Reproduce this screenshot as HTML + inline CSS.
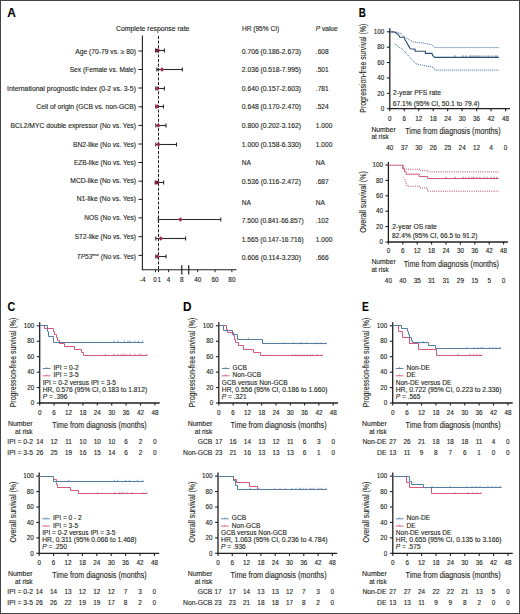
<!DOCTYPE html>
<html><head><meta charset="utf-8"><title>Figure</title>
<style>
html,body{margin:0;padding:0;background:#fff;}
body{width:520px;height:614px;overflow:hidden;}
svg{display:block;font-family:"Liberation Sans",sans-serif;}
text{stroke:#231f20;stroke-width:0.12px;}
</style></head>
<body>
<svg width="520" height="614" viewBox="0 0 520 614" fill="#231f20">
<rect x="0" y="0" width="520" height="614" fill="#fff"/>
<text x="7.20" y="17.20" font-size="12.4" textLength="8.60" lengthAdjust="spacingAndGlyphs" font-weight="bold" fill="#000" stroke="#000" stroke-width="0.35">A</text>
<text x="116.00" y="31.00" font-size="6.6" textLength="73.40" lengthAdjust="spacingAndGlyphs">Complete response rate</text>
<text x="241.90" y="31.00" font-size="6.6">HR (95% CI)</text>
<text x="315.70" y="31.00" font-size="6.6"><tspan font-style="italic">P</tspan> value</text>
<text x="75.30" y="54.20" font-size="6.6" textLength="60.70" lengthAdjust="spacingAndGlyphs">Age (70-79 vs. ≥ 80)</text>
<text x="69.70" y="72.30" font-size="6.6" textLength="66.30" lengthAdjust="spacingAndGlyphs">Sex (Female vs. Male)</text>
<text x="7.00" y="90.70" font-size="6.6" textLength="129.00" lengthAdjust="spacingAndGlyphs">International prognostic index (0-2 vs. 3-5)</text>
<text x="36.30" y="109.40" font-size="6.6" textLength="99.70" lengthAdjust="spacingAndGlyphs">Cell of origin (GCB vs. non-GCB)</text>
<text x="10.60" y="127.80" font-size="6.6" textLength="125.40" lengthAdjust="spacingAndGlyphs">BCL2/MYC double expressor (No vs. Yes)</text>
<text x="73.10" y="146.50" font-size="6.6" textLength="62.90" lengthAdjust="spacingAndGlyphs">BN2-like (No vs. Yes)</text>
<text x="73.90" y="164.60" font-size="6.6" textLength="62.10" lengthAdjust="spacingAndGlyphs">EZB-like (No vs. Yes)</text>
<text x="70.30" y="183.10" font-size="6.6" textLength="65.70" lengthAdjust="spacingAndGlyphs">MCD-like (No vs. Yes)</text>
<text x="76.70" y="201.40" font-size="6.6" textLength="59.30" lengthAdjust="spacingAndGlyphs">N1-like (No vs. Yes)</text>
<text x="84.20" y="220.40" font-size="6.6" textLength="51.80" lengthAdjust="spacingAndGlyphs">NOS (No vs. Yes)</text>
<text x="74.70" y="239.10" font-size="6.6" textLength="61.30" lengthAdjust="spacingAndGlyphs">ST2-like (No vs. Yes)</text>
<text x="76.70" y="258.60" font-size="6.6" textLength="59.30" lengthAdjust="spacingAndGlyphs"><tspan font-style="italic">TP53</tspan><tspan font-size="4" dy="-2.5">mut</tspan><tspan dy="2.5"> (No vs. Yes)</tspan></text>
<text x="241.80" y="53.90" font-size="6.6" textLength="59.10" lengthAdjust="spacingAndGlyphs">0.706 (0.186-2.673)</text>
<text x="315.80" y="53.90" font-size="6.6">.608</text>
<text x="241.80" y="71.70" font-size="6.6" textLength="59.10" lengthAdjust="spacingAndGlyphs">2.036 (0.518-7.995)</text>
<text x="315.80" y="71.70" font-size="6.6">.501</text>
<text x="241.80" y="90.60" font-size="6.6" textLength="59.10" lengthAdjust="spacingAndGlyphs">0.640 (0.157-2.603)</text>
<text x="315.80" y="90.60" font-size="6.6">.781</text>
<text x="241.80" y="109.20" font-size="6.6" textLength="59.10" lengthAdjust="spacingAndGlyphs">0.648 (0.170-2.470)</text>
<text x="315.80" y="109.20" font-size="6.6">.524</text>
<text x="241.80" y="128.00" font-size="6.6" textLength="59.10" lengthAdjust="spacingAndGlyphs">0.800 (0.202-3.162)</text>
<text x="315.80" y="128.00" font-size="6.6">1.000</text>
<text x="241.80" y="146.60" font-size="6.6" textLength="59.10" lengthAdjust="spacingAndGlyphs">1.000 (0.158-6.330)</text>
<text x="315.80" y="146.60" font-size="6.6">1.000</text>
<text x="241.80" y="165.40" font-size="6.6">NA</text>
<text x="315.80" y="165.40" font-size="6.6">NA</text>
<text x="241.80" y="183.80" font-size="6.6" textLength="59.10" lengthAdjust="spacingAndGlyphs">0.536 (0.116-2.472)</text>
<text x="315.80" y="183.80" font-size="6.6">.687</text>
<text x="241.80" y="204.70" font-size="6.6">NA</text>
<text x="315.80" y="204.70" font-size="6.6">NA</text>
<text x="241.80" y="222.80" font-size="6.6" textLength="61.80" lengthAdjust="spacingAndGlyphs">7.500 (0.841-66.857)</text>
<text x="315.80" y="222.80" font-size="6.6">.102</text>
<text x="241.80" y="241.60" font-size="6.6" textLength="61.80" lengthAdjust="spacingAndGlyphs">1.565 (0.147-16.716)</text>
<text x="315.80" y="241.60" font-size="6.6">1.000</text>
<text x="241.80" y="260.40" font-size="6.6" textLength="59.10" lengthAdjust="spacingAndGlyphs">0.606 (0.114-3.230)</text>
<text x="315.80" y="260.40" font-size="6.6">.666</text>
<line x1="142.40" y1="35.50" x2="142.40" y2="270.30" stroke="#231f20" stroke-width="1.1"/>
<line x1="141.90" y1="269.80" x2="236.50" y2="269.80" stroke="#231f20" stroke-width="1.1"/>
<line x1="138.50" y1="51.00" x2="142.40" y2="51.00" stroke="#231f20" stroke-width="1"/>
<line x1="138.50" y1="69.50" x2="142.40" y2="69.50" stroke="#231f20" stroke-width="1"/>
<line x1="138.50" y1="88.00" x2="142.40" y2="88.00" stroke="#231f20" stroke-width="1"/>
<line x1="138.50" y1="106.80" x2="142.40" y2="106.80" stroke="#231f20" stroke-width="1"/>
<line x1="138.50" y1="125.40" x2="142.40" y2="125.40" stroke="#231f20" stroke-width="1"/>
<line x1="138.50" y1="144.00" x2="142.40" y2="144.00" stroke="#231f20" stroke-width="1"/>
<line x1="138.50" y1="162.50" x2="142.40" y2="162.50" stroke="#231f20" stroke-width="1"/>
<line x1="138.50" y1="181.20" x2="142.40" y2="181.20" stroke="#231f20" stroke-width="1"/>
<line x1="138.50" y1="199.40" x2="142.40" y2="199.40" stroke="#231f20" stroke-width="1"/>
<line x1="138.50" y1="217.90" x2="142.40" y2="217.90" stroke="#231f20" stroke-width="1"/>
<line x1="138.50" y1="236.70" x2="142.40" y2="236.70" stroke="#231f20" stroke-width="1"/>
<line x1="138.50" y1="255.40" x2="142.40" y2="255.40" stroke="#231f20" stroke-width="1"/>
<line x1="158.50" y1="36.00" x2="158.50" y2="269.50" stroke="#231f20" stroke-width="1" stroke-dasharray="3 1.6"/>
<line x1="155.50" y1="269.80" x2="155.50" y2="272.20" stroke="#231f20" stroke-width="1"/>
<line x1="158.50" y1="269.80" x2="158.50" y2="272.20" stroke="#231f20" stroke-width="1"/>
<line x1="168.60" y1="269.80" x2="168.60" y2="272.20" stroke="#231f20" stroke-width="1"/>
<line x1="197.70" y1="269.80" x2="197.70" y2="272.20" stroke="#231f20" stroke-width="1"/>
<line x1="215.00" y1="269.80" x2="215.00" y2="272.20" stroke="#231f20" stroke-width="1"/>
<line x1="231.90" y1="269.80" x2="231.90" y2="272.20" stroke="#231f20" stroke-width="1"/>
<line x1="181.80" y1="265.20" x2="181.80" y2="274.40" stroke="#231f20" stroke-width="1.2"/>
<line x1="188.70" y1="265.20" x2="188.70" y2="274.40" stroke="#231f20" stroke-width="1.2"/>
<text x="142.60" y="282.30" font-size="6.4" text-anchor="middle">-4</text>
<text x="155.00" y="282.30" font-size="6.4" text-anchor="middle">0</text>
<text x="159.20" y="282.30" font-size="6.4" text-anchor="middle">1</text>
<text x="168.60" y="282.30" font-size="6.4" text-anchor="middle">4</text>
<text x="181.80" y="282.30" font-size="6.4" text-anchor="middle">8</text>
<text x="197.70" y="282.30" font-size="6.4" text-anchor="middle">40</text>
<text x="215.00" y="282.30" font-size="6.4" text-anchor="middle">60</text>
<text x="231.90" y="282.30" font-size="6.4" text-anchor="middle">80</text>
<line x1="155.50" y1="50.50" x2="164.40" y2="50.50" stroke="#2a2a2a" stroke-width="1.1"/>
<line x1="155.50" y1="48.50" x2="155.50" y2="52.50" stroke="#2a2a2a" stroke-width="1.1"/>
<line x1="164.40" y1="48.50" x2="164.40" y2="52.50" stroke="#2a2a2a" stroke-width="1.1"/>
<rect x="155.50" y="48.70" width="3.8" height="3.6" fill="#7c1f38"/>
<line x1="156.90" y1="69.50" x2="182.30" y2="69.50" stroke="#2a2a2a" stroke-width="1.1"/>
<line x1="156.90" y1="67.50" x2="156.90" y2="71.50" stroke="#2a2a2a" stroke-width="1.1"/>
<line x1="182.30" y1="67.50" x2="182.30" y2="71.50" stroke="#2a2a2a" stroke-width="1.1"/>
<path d="M159.80 69.50 L162.00 67.30 L164.20 69.50 L162.00 71.70Z" fill="#9c2a48"/>
<line x1="155.80" y1="88.50" x2="164.40" y2="88.50" stroke="#2a2a2a" stroke-width="1.1"/>
<line x1="155.80" y1="86.50" x2="155.80" y2="90.50" stroke="#2a2a2a" stroke-width="1.1"/>
<line x1="164.40" y1="86.50" x2="164.40" y2="90.50" stroke="#2a2a2a" stroke-width="1.1"/>
<path d="M155.10 88.50 L157.30 86.30 L159.50 88.50 L157.30 90.70Z" fill="#9c2a48"/>
<line x1="155.80" y1="106.50" x2="163.50" y2="106.50" stroke="#2a2a2a" stroke-width="1.1"/>
<line x1="155.80" y1="104.50" x2="155.80" y2="108.50" stroke="#2a2a2a" stroke-width="1.1"/>
<line x1="163.50" y1="104.50" x2="163.50" y2="108.50" stroke="#2a2a2a" stroke-width="1.1"/>
<path d="M154.80 106.50 L157.00 104.30 L159.20 106.50 L157.00 108.70Z" fill="#9c2a48"/>
<line x1="155.80" y1="125.50" x2="166.00" y2="125.50" stroke="#2a2a2a" stroke-width="1.1"/>
<line x1="155.80" y1="123.50" x2="155.80" y2="127.50" stroke="#2a2a2a" stroke-width="1.1"/>
<line x1="166.00" y1="123.50" x2="166.00" y2="127.50" stroke="#2a2a2a" stroke-width="1.1"/>
<path d="M156.10 125.50 L158.30 123.30 L160.50 125.50 L158.30 127.70Z" fill="#9c2a48"/>
<line x1="155.80" y1="144.50" x2="176.50" y2="144.50" stroke="#2a2a2a" stroke-width="1.1"/>
<line x1="155.80" y1="142.50" x2="155.80" y2="146.50" stroke="#2a2a2a" stroke-width="1.1"/>
<line x1="176.50" y1="142.50" x2="176.50" y2="146.50" stroke="#2a2a2a" stroke-width="1.1"/>
<path d="M156.30 144.50 L158.50 142.30 L160.70 144.50 L158.50 146.70Z" fill="#9c2a48"/>
<line x1="155.20" y1="182.50" x2="163.60" y2="182.50" stroke="#2a2a2a" stroke-width="1.1"/>
<line x1="155.20" y1="180.50" x2="155.20" y2="184.50" stroke="#2a2a2a" stroke-width="1.1"/>
<line x1="163.60" y1="180.50" x2="163.60" y2="184.50" stroke="#2a2a2a" stroke-width="1.1"/>
<rect x="155.10" y="180.70" width="3.8" height="3.6" fill="#7c1f38"/>
<line x1="158.30" y1="219.50" x2="220.80" y2="219.50" stroke="#2a2a2a" stroke-width="1.1"/>
<line x1="158.30" y1="217.50" x2="158.30" y2="221.50" stroke="#2a2a2a" stroke-width="1.1"/>
<line x1="220.80" y1="217.50" x2="220.80" y2="221.50" stroke="#2a2a2a" stroke-width="1.1"/>
<path d="M178.20 219.50 L180.40 217.30 L182.60 219.50 L180.40 221.70Z" fill="#9c2a48"/>
<line x1="155.80" y1="238.50" x2="185.60" y2="238.50" stroke="#2a2a2a" stroke-width="1.1"/>
<line x1="155.80" y1="236.50" x2="155.80" y2="240.50" stroke="#2a2a2a" stroke-width="1.1"/>
<line x1="185.60" y1="236.50" x2="185.60" y2="240.50" stroke="#2a2a2a" stroke-width="1.1"/>
<path d="M158.60 238.50 L160.80 236.30 L163.00 238.50 L160.80 240.70Z" fill="#9c2a48"/>
<line x1="155.80" y1="256.50" x2="166.00" y2="256.50" stroke="#2a2a2a" stroke-width="1.1"/>
<line x1="155.80" y1="254.50" x2="155.80" y2="258.50" stroke="#2a2a2a" stroke-width="1.1"/>
<line x1="166.00" y1="254.50" x2="166.00" y2="258.50" stroke="#2a2a2a" stroke-width="1.1"/>
<path d="M155.10 256.50 L157.30 254.30 L159.50 256.50 L157.30 258.70Z" fill="#9c2a48"/>
<text x="358.80" y="17.20" font-size="12.4" textLength="7.10" lengthAdjust="spacingAndGlyphs" font-weight="bold" fill="#000" stroke="#000" stroke-width="0.35">B</text>
<line x1="389.80" y1="28.20" x2="389.80" y2="109.30" stroke="#231f20" stroke-width="1.3"/>
<line x1="389.20" y1="108.70" x2="509.92" y2="108.70" stroke="#231f20" stroke-width="1.3"/>
<line x1="386.90" y1="108.70" x2="389.80" y2="108.70" stroke="#231f20" stroke-width="1.1"/>
<text x="384.30" y="110.90" font-size="6.3" text-anchor="end">0</text>
<line x1="386.90" y1="93.32" x2="389.80" y2="93.32" stroke="#231f20" stroke-width="1.1"/>
<text x="384.30" y="95.52" font-size="6.3" text-anchor="end">20</text>
<line x1="386.90" y1="77.94" x2="389.80" y2="77.94" stroke="#231f20" stroke-width="1.1"/>
<text x="384.30" y="80.14" font-size="6.3" text-anchor="end">40</text>
<line x1="386.90" y1="62.56" x2="389.80" y2="62.56" stroke="#231f20" stroke-width="1.1"/>
<text x="384.30" y="64.76" font-size="6.3" text-anchor="end">60</text>
<line x1="386.90" y1="47.18" x2="389.80" y2="47.18" stroke="#231f20" stroke-width="1.1"/>
<text x="384.30" y="49.38" font-size="6.3" text-anchor="end">80</text>
<line x1="386.90" y1="31.80" x2="389.80" y2="31.80" stroke="#231f20" stroke-width="1.1"/>
<text x="384.30" y="34.00" font-size="6.3" text-anchor="end">100</text>
<line x1="389.80" y1="108.70" x2="389.80" y2="111.30" stroke="#231f20" stroke-width="1.1"/>
<text x="389.80" y="120.60" font-size="6.3" text-anchor="middle">0</text>
<line x1="404.27" y1="108.70" x2="404.27" y2="111.30" stroke="#231f20" stroke-width="1.1"/>
<text x="404.27" y="120.60" font-size="6.3" text-anchor="middle">6</text>
<line x1="418.74" y1="108.70" x2="418.74" y2="111.30" stroke="#231f20" stroke-width="1.1"/>
<text x="418.74" y="120.60" font-size="6.3" text-anchor="middle">12</text>
<line x1="433.22" y1="108.70" x2="433.22" y2="111.30" stroke="#231f20" stroke-width="1.1"/>
<text x="433.22" y="120.60" font-size="6.3" text-anchor="middle">18</text>
<line x1="447.69" y1="108.70" x2="447.69" y2="111.30" stroke="#231f20" stroke-width="1.1"/>
<text x="447.69" y="120.60" font-size="6.3" text-anchor="middle">24</text>
<line x1="462.16" y1="108.70" x2="462.16" y2="111.30" stroke="#231f20" stroke-width="1.1"/>
<text x="462.16" y="120.60" font-size="6.3" text-anchor="middle">30</text>
<line x1="476.63" y1="108.70" x2="476.63" y2="111.30" stroke="#231f20" stroke-width="1.1"/>
<text x="476.63" y="120.60" font-size="6.3" text-anchor="middle">36</text>
<line x1="491.10" y1="108.70" x2="491.10" y2="111.30" stroke="#231f20" stroke-width="1.1"/>
<text x="491.10" y="120.60" font-size="6.3" text-anchor="middle">42</text>
<line x1="505.58" y1="108.70" x2="505.58" y2="111.30" stroke="#231f20" stroke-width="1.1"/>
<text x="505.58" y="120.60" font-size="6.3" text-anchor="middle">48</text>
<text transform="translate(365.50 68.25) rotate(-90)" x="0" y="0" font-size="9.2" text-anchor="middle" textLength="88.90" lengthAdjust="spacingAndGlyphs">Progression-free survival (%)</text>
<text x="371.40" y="131.80" font-size="6.6" textLength="24.30" lengthAdjust="spacingAndGlyphs">Number</text>
<text x="371.40" y="139.00" font-size="6.6" textLength="17.30" lengthAdjust="spacingAndGlyphs">at risk</text>
<text x="405.20" y="133.60" font-size="9.0" textLength="95.40" lengthAdjust="spacingAndGlyphs">Time from diagnosis (months)</text>
<text x="389.80" y="150.10" font-size="6.4" text-anchor="middle">40</text>
<text x="404.27" y="150.10" font-size="6.4" text-anchor="middle">37</text>
<text x="418.74" y="150.10" font-size="6.4" text-anchor="middle">30</text>
<text x="433.22" y="150.10" font-size="6.4" text-anchor="middle">26</text>
<text x="447.69" y="150.10" font-size="6.4" text-anchor="middle">25</text>
<text x="462.16" y="150.10" font-size="6.4" text-anchor="middle">24</text>
<text x="476.63" y="150.10" font-size="6.4" text-anchor="middle">12</text>
<text x="491.10" y="150.10" font-size="6.4" text-anchor="middle">4</text>
<text x="505.58" y="150.10" font-size="6.4" text-anchor="middle">0</text>
<text x="393.00" y="95.40" font-size="6.6" textLength="48.00" lengthAdjust="spacingAndGlyphs">2-year PFS rate</text>
<text x="392.70" y="105.70" font-size="6.6" textLength="86.90" lengthAdjust="spacingAndGlyphs">67.1% (95% CI, 50.1 to 79.4)</text>
<path d="M389.80 31.90 L394.30 31.90 L395.30 32.40 L396.30 33.20 L397.40 33.90 L398.40 34.60 L399.80 37.20 L403.90 37.20 L405.00 39.50 L406.20 41.70 L407.40 43.80 L408.60 45.90 L409.60 47.60 L410.50 48.80 L415.10 49.20 L415.10 51.20 L425.40 51.20 L425.40 53.30 L431.90 53.30 L432.70 55.40 L434.60 57.30 L498.80 57.30" fill="none" stroke="#2f4f72" stroke-width="1.15"/>
<path d="M389.80 31.90 L397.00 32.30 L401.00 33.50 L405.00 37.30 L412.70 41.90 L418.00 42.50 L424.20 43.10 L431.20 44.60 L435.00 47.60 L498.80 47.60" fill="none" stroke="#3d6590" stroke-width="1.0" stroke-dasharray="1 1"/>
<path d="M394.50 44.20 L397.00 45.00 L399.00 47.50 L401.50 48.30 L405.00 51.90 L415.80 63.80 L425.00 65.80 L433.50 67.30 L435.00 70.10 L498.80 70.10" fill="none" stroke="#3d6590" stroke-width="1.0" stroke-dasharray="1 1"/>
<line x1="455.00" y1="55.30" x2="455.00" y2="57.40" stroke="#2f4f72" stroke-width="0.7"/>
<line x1="463.00" y1="55.30" x2="463.00" y2="57.40" stroke="#2f4f72" stroke-width="0.7"/>
<line x1="466.00" y1="55.30" x2="466.00" y2="57.40" stroke="#2f4f72" stroke-width="0.7"/>
<line x1="470.00" y1="55.30" x2="470.00" y2="57.40" stroke="#2f4f72" stroke-width="0.7"/>
<line x1="472.00" y1="55.30" x2="472.00" y2="57.40" stroke="#2f4f72" stroke-width="0.7"/>
<line x1="474.00" y1="55.30" x2="474.00" y2="57.40" stroke="#2f4f72" stroke-width="0.7"/>
<line x1="476.00" y1="55.30" x2="476.00" y2="57.40" stroke="#2f4f72" stroke-width="0.7"/>
<line x1="478.00" y1="55.30" x2="478.00" y2="57.40" stroke="#2f4f72" stroke-width="0.7"/>
<line x1="480.00" y1="55.30" x2="480.00" y2="57.40" stroke="#2f4f72" stroke-width="0.7"/>
<line x1="483.00" y1="55.30" x2="483.00" y2="57.40" stroke="#2f4f72" stroke-width="0.7"/>
<line x1="486.00" y1="55.30" x2="486.00" y2="57.40" stroke="#2f4f72" stroke-width="0.7"/>
<line x1="489.00" y1="55.30" x2="489.00" y2="57.40" stroke="#2f4f72" stroke-width="0.7"/>
<line x1="492.00" y1="55.30" x2="492.00" y2="57.40" stroke="#2f4f72" stroke-width="0.7"/>
<line x1="495.00" y1="55.30" x2="495.00" y2="57.40" stroke="#2f4f72" stroke-width="0.7"/>
<line x1="497.00" y1="55.30" x2="497.00" y2="57.40" stroke="#2f4f72" stroke-width="0.7"/>
<line x1="388.40" y1="162.00" x2="388.40" y2="242.60" stroke="#231f20" stroke-width="1.3"/>
<line x1="387.80" y1="242.00" x2="507.92" y2="242.00" stroke="#231f20" stroke-width="1.3"/>
<line x1="385.50" y1="242.00" x2="388.40" y2="242.00" stroke="#231f20" stroke-width="1.1"/>
<text x="382.90" y="244.20" font-size="6.3" text-anchor="end">0</text>
<line x1="385.50" y1="226.60" x2="388.40" y2="226.60" stroke="#231f20" stroke-width="1.1"/>
<text x="382.90" y="228.80" font-size="6.3" text-anchor="end">20</text>
<line x1="385.50" y1="211.20" x2="388.40" y2="211.20" stroke="#231f20" stroke-width="1.1"/>
<text x="382.90" y="213.40" font-size="6.3" text-anchor="end">40</text>
<line x1="385.50" y1="195.80" x2="388.40" y2="195.80" stroke="#231f20" stroke-width="1.1"/>
<text x="382.90" y="198.00" font-size="6.3" text-anchor="end">60</text>
<line x1="385.50" y1="180.40" x2="388.40" y2="180.40" stroke="#231f20" stroke-width="1.1"/>
<text x="382.90" y="182.60" font-size="6.3" text-anchor="end">80</text>
<line x1="385.50" y1="165.00" x2="388.40" y2="165.00" stroke="#231f20" stroke-width="1.1"/>
<text x="382.90" y="167.20" font-size="6.3" text-anchor="end">100</text>
<line x1="388.40" y1="242.00" x2="388.40" y2="244.60" stroke="#231f20" stroke-width="1.1"/>
<text x="388.40" y="253.20" font-size="6.3" text-anchor="middle">0</text>
<line x1="402.80" y1="242.00" x2="402.80" y2="244.60" stroke="#231f20" stroke-width="1.1"/>
<text x="402.80" y="253.20" font-size="6.3" text-anchor="middle">6</text>
<line x1="417.20" y1="242.00" x2="417.20" y2="244.60" stroke="#231f20" stroke-width="1.1"/>
<text x="417.20" y="253.20" font-size="6.3" text-anchor="middle">12</text>
<line x1="431.60" y1="242.00" x2="431.60" y2="244.60" stroke="#231f20" stroke-width="1.1"/>
<text x="431.60" y="253.20" font-size="6.3" text-anchor="middle">18</text>
<line x1="446.00" y1="242.00" x2="446.00" y2="244.60" stroke="#231f20" stroke-width="1.1"/>
<text x="446.00" y="253.20" font-size="6.3" text-anchor="middle">24</text>
<line x1="460.40" y1="242.00" x2="460.40" y2="244.60" stroke="#231f20" stroke-width="1.1"/>
<text x="460.40" y="253.20" font-size="6.3" text-anchor="middle">30</text>
<line x1="474.80" y1="242.00" x2="474.80" y2="244.60" stroke="#231f20" stroke-width="1.1"/>
<text x="474.80" y="253.20" font-size="6.3" text-anchor="middle">36</text>
<line x1="489.20" y1="242.00" x2="489.20" y2="244.60" stroke="#231f20" stroke-width="1.1"/>
<text x="489.20" y="253.20" font-size="6.3" text-anchor="middle">42</text>
<line x1="503.60" y1="242.00" x2="503.60" y2="244.60" stroke="#231f20" stroke-width="1.1"/>
<text x="503.60" y="253.20" font-size="6.3" text-anchor="middle">48</text>
<text transform="translate(365.50 201.95) rotate(-90)" x="0" y="0" font-size="9.2" text-anchor="middle" textLength="61.70" lengthAdjust="spacingAndGlyphs">Overall survival (%)</text>
<text x="371.40" y="264.20" font-size="6.6" textLength="24.30" lengthAdjust="spacingAndGlyphs">Number</text>
<text x="371.40" y="272.30" font-size="6.6" textLength="17.30" lengthAdjust="spacingAndGlyphs">at risk</text>
<text x="403.70" y="266.70" font-size="9.0" textLength="95.30" lengthAdjust="spacingAndGlyphs">Time from diagnosis (months)</text>
<text x="388.40" y="282.50" font-size="6.4" text-anchor="middle">40</text>
<text x="402.80" y="282.50" font-size="6.4" text-anchor="middle">40</text>
<text x="417.20" y="282.50" font-size="6.4" text-anchor="middle">35</text>
<text x="431.60" y="282.50" font-size="6.4" text-anchor="middle">31</text>
<text x="446.00" y="282.50" font-size="6.4" text-anchor="middle">31</text>
<text x="460.40" y="282.50" font-size="6.4" text-anchor="middle">29</text>
<text x="474.80" y="282.50" font-size="6.4" text-anchor="middle">15</text>
<text x="489.20" y="282.50" font-size="6.4" text-anchor="middle">5</text>
<text x="503.60" y="282.50" font-size="6.4" text-anchor="middle">0</text>
<text x="392.30" y="228.70" font-size="6.6" textLength="44.50" lengthAdjust="spacingAndGlyphs">2-year OS rate</text>
<text x="392.00" y="238.20" font-size="6.6" textLength="85.50" lengthAdjust="spacingAndGlyphs">82.4% (95% CI, 66.5 to 91.2)</text>
<path d="M388.40 165.20 L402.60 165.20 L402.60 168.50 L404.30 168.50 L404.30 171.50 L406.00 171.50 L406.00 174.20 L419.20 174.20 L419.20 176.50 L427.60 176.50 L427.60 178.50 L498.50 178.50" fill="none" stroke="#d4587a" stroke-width="1.0"/>
<path d="M402.80 165.60 L403.80 165.60 L403.80 169.20 L420.30 169.20 L420.30 170.40 L427.40 170.40 L427.40 171.90 L498.50 171.90" fill="none" stroke="#a8304f" stroke-width="0.9" stroke-dasharray="1 1.2"/>
<path d="M403.20 177.60 L405.50 180.00 L406.00 183.00 L407.00 186.20 L420.00 186.20 L420.00 188.00 L427.50 188.00 L427.50 191.20 L498.50 191.20" fill="none" stroke="#a8304f" stroke-width="0.9" stroke-dasharray="1 1.2"/>
<line x1="446.00" y1="176.75" x2="446.00" y2="178.85" stroke="#a8304f" stroke-width="0.7"/>
<line x1="455.00" y1="176.75" x2="455.00" y2="178.85" stroke="#a8304f" stroke-width="0.7"/>
<line x1="463.00" y1="176.75" x2="463.00" y2="178.85" stroke="#a8304f" stroke-width="0.7"/>
<line x1="466.00" y1="176.75" x2="466.00" y2="178.85" stroke="#a8304f" stroke-width="0.7"/>
<line x1="469.00" y1="176.75" x2="469.00" y2="178.85" stroke="#a8304f" stroke-width="0.7"/>
<line x1="472.00" y1="176.75" x2="472.00" y2="178.85" stroke="#a8304f" stroke-width="0.7"/>
<line x1="474.00" y1="176.75" x2="474.00" y2="178.85" stroke="#a8304f" stroke-width="0.7"/>
<line x1="477.00" y1="176.75" x2="477.00" y2="178.85" stroke="#a8304f" stroke-width="0.7"/>
<line x1="480.00" y1="176.75" x2="480.00" y2="178.85" stroke="#a8304f" stroke-width="0.7"/>
<line x1="484.00" y1="176.75" x2="484.00" y2="178.85" stroke="#a8304f" stroke-width="0.7"/>
<line x1="487.00" y1="176.75" x2="487.00" y2="178.85" stroke="#a8304f" stroke-width="0.7"/>
<line x1="491.00" y1="176.75" x2="491.00" y2="178.85" stroke="#a8304f" stroke-width="0.7"/>
<line x1="494.00" y1="176.75" x2="494.00" y2="178.85" stroke="#a8304f" stroke-width="0.7"/>
<line x1="497.00" y1="176.75" x2="497.00" y2="178.85" stroke="#a8304f" stroke-width="0.7"/>
<text x="7.60" y="311.30" font-size="12.6" textLength="7.70" lengthAdjust="spacingAndGlyphs" font-weight="bold" fill="#000" stroke="#000" stroke-width="0.35">C</text>
<line x1="39.70" y1="322.30" x2="39.70" y2="403.60" stroke="#231f20" stroke-width="1.3"/>
<line x1="39.10" y1="403.00" x2="159.70" y2="403.00" stroke="#231f20" stroke-width="1.3"/>
<line x1="36.80" y1="403.00" x2="39.70" y2="403.00" stroke="#231f20" stroke-width="1.1"/>
<text x="34.20" y="405.20" font-size="6.3" text-anchor="end">0</text>
<line x1="36.80" y1="387.56" x2="39.70" y2="387.56" stroke="#231f20" stroke-width="1.1"/>
<text x="34.20" y="389.76" font-size="6.3" text-anchor="end">20</text>
<line x1="36.80" y1="372.12" x2="39.70" y2="372.12" stroke="#231f20" stroke-width="1.1"/>
<text x="34.20" y="374.32" font-size="6.3" text-anchor="end">40</text>
<line x1="36.80" y1="356.68" x2="39.70" y2="356.68" stroke="#231f20" stroke-width="1.1"/>
<text x="34.20" y="358.88" font-size="6.3" text-anchor="end">60</text>
<line x1="36.80" y1="341.24" x2="39.70" y2="341.24" stroke="#231f20" stroke-width="1.1"/>
<text x="34.20" y="343.44" font-size="6.3" text-anchor="end">80</text>
<line x1="36.80" y1="325.80" x2="39.70" y2="325.80" stroke="#231f20" stroke-width="1.1"/>
<text x="34.20" y="328.00" font-size="6.3" text-anchor="end">100</text>
<line x1="39.70" y1="403.00" x2="39.70" y2="405.60" stroke="#231f20" stroke-width="1.1"/>
<text x="39.70" y="414.80" font-size="6.3" text-anchor="middle">0</text>
<line x1="54.10" y1="403.00" x2="54.10" y2="405.60" stroke="#231f20" stroke-width="1.1"/>
<text x="54.10" y="414.80" font-size="6.3" text-anchor="middle">6</text>
<line x1="68.50" y1="403.00" x2="68.50" y2="405.60" stroke="#231f20" stroke-width="1.1"/>
<text x="68.50" y="414.80" font-size="6.3" text-anchor="middle">12</text>
<line x1="82.90" y1="403.00" x2="82.90" y2="405.60" stroke="#231f20" stroke-width="1.1"/>
<text x="82.90" y="414.80" font-size="6.3" text-anchor="middle">18</text>
<line x1="97.30" y1="403.00" x2="97.30" y2="405.60" stroke="#231f20" stroke-width="1.1"/>
<text x="97.30" y="414.80" font-size="6.3" text-anchor="middle">24</text>
<line x1="111.70" y1="403.00" x2="111.70" y2="405.60" stroke="#231f20" stroke-width="1.1"/>
<text x="111.70" y="414.80" font-size="6.3" text-anchor="middle">30</text>
<line x1="126.10" y1="403.00" x2="126.10" y2="405.60" stroke="#231f20" stroke-width="1.1"/>
<text x="126.10" y="414.80" font-size="6.3" text-anchor="middle">36</text>
<line x1="140.50" y1="403.00" x2="140.50" y2="405.60" stroke="#231f20" stroke-width="1.1"/>
<text x="140.50" y="414.80" font-size="6.3" text-anchor="middle">42</text>
<line x1="154.90" y1="403.00" x2="154.90" y2="405.60" stroke="#231f20" stroke-width="1.1"/>
<text x="154.90" y="414.80" font-size="6.3" text-anchor="middle">48</text>
<text transform="translate(15.70 362.55) rotate(-90)" x="0" y="0" font-size="9.2" text-anchor="middle" textLength="89.50" lengthAdjust="spacingAndGlyphs">Progression-free survival (%)</text>
<text x="32.60" y="425.60" font-size="6.6" text-anchor="end" textLength="24.60" lengthAdjust="spacingAndGlyphs">Number</text>
<text x="32.60" y="433.50" font-size="6.6" text-anchor="end" textLength="17.50" lengthAdjust="spacingAndGlyphs">at risk</text>
<text x="52.30" y="427.80" font-size="9.0" textLength="94.30" lengthAdjust="spacingAndGlyphs">Time from diagnosis (months)</text>
<text x="33.00" y="444.10" font-size="6.75" text-anchor="end">IPI = 0-2</text>
<text x="39.70" y="444.10" font-size="6.4" text-anchor="middle">14</text>
<text x="54.10" y="444.10" font-size="6.4" text-anchor="middle">12</text>
<text x="68.50" y="444.10" font-size="6.4" text-anchor="middle">11</text>
<text x="82.90" y="444.10" font-size="6.4" text-anchor="middle">10</text>
<text x="97.30" y="444.10" font-size="6.4" text-anchor="middle">10</text>
<text x="111.70" y="444.10" font-size="6.4" text-anchor="middle">10</text>
<text x="126.10" y="444.10" font-size="6.4" text-anchor="middle">6</text>
<text x="140.50" y="444.10" font-size="6.4" text-anchor="middle">2</text>
<text x="154.90" y="444.10" font-size="6.4" text-anchor="middle">0</text>
<text x="33.00" y="454.70" font-size="6.75" text-anchor="end">IPI = 3-5</text>
<text x="39.70" y="454.70" font-size="6.4" text-anchor="middle">26</text>
<text x="54.10" y="454.70" font-size="6.4" text-anchor="middle">25</text>
<text x="68.50" y="454.70" font-size="6.4" text-anchor="middle">19</text>
<text x="82.90" y="454.70" font-size="6.4" text-anchor="middle">16</text>
<text x="97.30" y="454.70" font-size="6.4" text-anchor="middle">15</text>
<text x="111.70" y="454.70" font-size="6.4" text-anchor="middle">14</text>
<text x="126.10" y="454.70" font-size="6.4" text-anchor="middle">6</text>
<text x="140.50" y="454.70" font-size="6.4" text-anchor="middle">2</text>
<text x="154.90" y="454.70" font-size="6.4" text-anchor="middle">0</text>
<line x1="39.20" y1="472.60" x2="39.20" y2="553.90" stroke="#231f20" stroke-width="1.3"/>
<line x1="38.60" y1="553.30" x2="159.20" y2="553.30" stroke="#231f20" stroke-width="1.3"/>
<line x1="36.30" y1="553.30" x2="39.20" y2="553.30" stroke="#231f20" stroke-width="1.1"/>
<text x="33.70" y="555.50" font-size="6.3" text-anchor="end">0</text>
<line x1="36.30" y1="537.86" x2="39.20" y2="537.86" stroke="#231f20" stroke-width="1.1"/>
<text x="33.70" y="540.06" font-size="6.3" text-anchor="end">20</text>
<line x1="36.30" y1="522.42" x2="39.20" y2="522.42" stroke="#231f20" stroke-width="1.1"/>
<text x="33.70" y="524.62" font-size="6.3" text-anchor="end">40</text>
<line x1="36.30" y1="506.98" x2="39.20" y2="506.98" stroke="#231f20" stroke-width="1.1"/>
<text x="33.70" y="509.18" font-size="6.3" text-anchor="end">60</text>
<line x1="36.30" y1="491.54" x2="39.20" y2="491.54" stroke="#231f20" stroke-width="1.1"/>
<text x="33.70" y="493.74" font-size="6.3" text-anchor="end">80</text>
<line x1="36.30" y1="476.10" x2="39.20" y2="476.10" stroke="#231f20" stroke-width="1.1"/>
<text x="33.70" y="478.30" font-size="6.3" text-anchor="end">100</text>
<line x1="39.20" y1="553.30" x2="39.20" y2="555.90" stroke="#231f20" stroke-width="1.1"/>
<text x="39.20" y="565.30" font-size="6.3" text-anchor="middle">0</text>
<line x1="53.60" y1="553.30" x2="53.60" y2="555.90" stroke="#231f20" stroke-width="1.1"/>
<text x="53.60" y="565.30" font-size="6.3" text-anchor="middle">6</text>
<line x1="68.00" y1="553.30" x2="68.00" y2="555.90" stroke="#231f20" stroke-width="1.1"/>
<text x="68.00" y="565.30" font-size="6.3" text-anchor="middle">12</text>
<line x1="82.40" y1="553.30" x2="82.40" y2="555.90" stroke="#231f20" stroke-width="1.1"/>
<text x="82.40" y="565.30" font-size="6.3" text-anchor="middle">18</text>
<line x1="96.80" y1="553.30" x2="96.80" y2="555.90" stroke="#231f20" stroke-width="1.1"/>
<text x="96.80" y="565.30" font-size="6.3" text-anchor="middle">24</text>
<line x1="111.20" y1="553.30" x2="111.20" y2="555.90" stroke="#231f20" stroke-width="1.1"/>
<text x="111.20" y="565.30" font-size="6.3" text-anchor="middle">30</text>
<line x1="125.60" y1="553.30" x2="125.60" y2="555.90" stroke="#231f20" stroke-width="1.1"/>
<text x="125.60" y="565.30" font-size="6.3" text-anchor="middle">36</text>
<line x1="140.00" y1="553.30" x2="140.00" y2="555.90" stroke="#231f20" stroke-width="1.1"/>
<text x="140.00" y="565.30" font-size="6.3" text-anchor="middle">42</text>
<line x1="154.40" y1="553.30" x2="154.40" y2="555.90" stroke="#231f20" stroke-width="1.1"/>
<text x="154.40" y="565.30" font-size="6.3" text-anchor="middle">48</text>
<text transform="translate(15.70 512.10) rotate(-90)" x="0" y="0" font-size="9.2" text-anchor="middle" textLength="60.80" lengthAdjust="spacingAndGlyphs">Overall survival (%)</text>
<text x="32.60" y="576.00" font-size="6.6" text-anchor="end" textLength="24.60" lengthAdjust="spacingAndGlyphs">Number</text>
<text x="32.60" y="584.00" font-size="6.6" text-anchor="end" textLength="17.50" lengthAdjust="spacingAndGlyphs">at risk</text>
<text x="52.30" y="577.90" font-size="9.0" textLength="94.30" lengthAdjust="spacingAndGlyphs">Time from diagnosis (months)</text>
<text x="33.00" y="594.10" font-size="6.75" text-anchor="end">IPI = 0-2</text>
<text x="39.20" y="594.10" font-size="6.4" text-anchor="middle">14</text>
<text x="53.60" y="594.10" font-size="6.4" text-anchor="middle">14</text>
<text x="68.00" y="594.10" font-size="6.4" text-anchor="middle">13</text>
<text x="82.40" y="594.10" font-size="6.4" text-anchor="middle">12</text>
<text x="96.80" y="594.10" font-size="6.4" text-anchor="middle">12</text>
<text x="111.20" y="594.10" font-size="6.4" text-anchor="middle">12</text>
<text x="125.60" y="594.10" font-size="6.4" text-anchor="middle">7</text>
<text x="140.00" y="594.10" font-size="6.4" text-anchor="middle">3</text>
<text x="154.40" y="594.10" font-size="6.4" text-anchor="middle">0</text>
<text x="33.00" y="604.90" font-size="6.75" text-anchor="end">IPI = 3-5</text>
<text x="39.20" y="604.90" font-size="6.4" text-anchor="middle">26</text>
<text x="53.60" y="604.90" font-size="6.4" text-anchor="middle">26</text>
<text x="68.00" y="604.90" font-size="6.4" text-anchor="middle">22</text>
<text x="82.40" y="604.90" font-size="6.4" text-anchor="middle">19</text>
<text x="96.80" y="604.90" font-size="6.4" text-anchor="middle">19</text>
<text x="111.20" y="604.90" font-size="6.4" text-anchor="middle">17</text>
<text x="125.60" y="604.90" font-size="6.4" text-anchor="middle">8</text>
<text x="140.00" y="604.90" font-size="6.4" text-anchor="middle">2</text>
<text x="154.40" y="604.90" font-size="6.4" text-anchor="middle">0</text>
<path d="M39.70 325.50H44.50V328.50H53.50V331.50H54.50V334.50H56.50V337.50H57.50V340.50H59.50V343.50H64.50V346.50H74.50V349.50H81.50V352.50H83.50V355.50H147.30" fill="none" stroke="#d4587a" stroke-width="1.0"/>
<line x1="105.40" y1="353.72" x2="105.40" y2="355.82" stroke="#d4587a" stroke-width="0.7"/>
<line x1="113.50" y1="353.72" x2="113.50" y2="355.82" stroke="#d4587a" stroke-width="0.7"/>
<line x1="118.00" y1="353.72" x2="118.00" y2="355.82" stroke="#d4587a" stroke-width="0.7"/>
<line x1="121.30" y1="353.72" x2="121.30" y2="355.82" stroke="#d4587a" stroke-width="0.7"/>
<line x1="123.80" y1="353.72" x2="123.80" y2="355.82" stroke="#d4587a" stroke-width="0.7"/>
<line x1="126.00" y1="353.72" x2="126.00" y2="355.82" stroke="#d4587a" stroke-width="0.7"/>
<line x1="130.00" y1="353.72" x2="130.00" y2="355.82" stroke="#d4587a" stroke-width="0.7"/>
<line x1="134.80" y1="353.72" x2="134.80" y2="355.82" stroke="#d4587a" stroke-width="0.7"/>
<line x1="139.00" y1="353.72" x2="139.00" y2="355.82" stroke="#d4587a" stroke-width="0.7"/>
<line x1="141.40" y1="353.72" x2="141.40" y2="355.82" stroke="#d4587a" stroke-width="0.7"/>
<line x1="146.80" y1="353.72" x2="146.80" y2="355.82" stroke="#d4587a" stroke-width="0.7"/>
<path d="M39.70 325.50H47.50V331.50H48.50V336.50H53.50V342.50H143.40" fill="none" stroke="#577ca2" stroke-width="1.0"/>
<line x1="114.00" y1="340.52" x2="114.00" y2="342.62" stroke="#577ca2" stroke-width="0.7"/>
<line x1="118.00" y1="340.52" x2="118.00" y2="342.62" stroke="#577ca2" stroke-width="0.7"/>
<line x1="124.40" y1="340.52" x2="124.40" y2="342.62" stroke="#577ca2" stroke-width="0.7"/>
<line x1="128.00" y1="340.52" x2="128.00" y2="342.62" stroke="#577ca2" stroke-width="0.7"/>
<line x1="130.00" y1="340.52" x2="130.00" y2="342.62" stroke="#577ca2" stroke-width="0.7"/>
<line x1="134.80" y1="340.52" x2="134.80" y2="342.62" stroke="#577ca2" stroke-width="0.7"/>
<line x1="138.60" y1="340.52" x2="138.60" y2="342.62" stroke="#577ca2" stroke-width="0.7"/>
<line x1="142.70" y1="340.52" x2="142.70" y2="342.62" stroke="#577ca2" stroke-width="0.7"/>
<path d="M39.20 476.50H53.50V479.50H56.50V482.50H56.50V484.50H57.50V487.50H70.50V490.50H78.50V493.50H147.00" fill="none" stroke="#d4587a" stroke-width="1.0"/>
<line x1="97.60" y1="492.13" x2="97.60" y2="494.23" stroke="#d4587a" stroke-width="0.7"/>
<line x1="114.50" y1="492.13" x2="114.50" y2="494.23" stroke="#d4587a" stroke-width="0.7"/>
<line x1="119.50" y1="492.13" x2="119.50" y2="494.23" stroke="#d4587a" stroke-width="0.7"/>
<line x1="121.20" y1="492.13" x2="121.20" y2="494.23" stroke="#d4587a" stroke-width="0.7"/>
<line x1="122.90" y1="492.13" x2="122.90" y2="494.23" stroke="#d4587a" stroke-width="0.7"/>
<line x1="127.00" y1="492.13" x2="127.00" y2="494.23" stroke="#d4587a" stroke-width="0.7"/>
<line x1="132.30" y1="492.13" x2="132.30" y2="494.23" stroke="#d4587a" stroke-width="0.7"/>
<line x1="143.00" y1="492.13" x2="143.00" y2="494.23" stroke="#d4587a" stroke-width="0.7"/>
<line x1="147.00" y1="492.13" x2="147.00" y2="494.23" stroke="#d4587a" stroke-width="0.7"/>
<path d="M39.20 476.50H53.50V481.50H143.50" fill="none" stroke="#577ca2" stroke-width="1.0"/>
<line x1="69.00" y1="479.78" x2="69.00" y2="481.88" stroke="#577ca2" stroke-width="0.7"/>
<line x1="114.50" y1="479.78" x2="114.50" y2="481.88" stroke="#577ca2" stroke-width="0.7"/>
<line x1="117.80" y1="479.78" x2="117.80" y2="481.88" stroke="#577ca2" stroke-width="0.7"/>
<line x1="125.60" y1="479.78" x2="125.60" y2="481.88" stroke="#577ca2" stroke-width="0.7"/>
<line x1="129.60" y1="479.78" x2="129.60" y2="481.88" stroke="#577ca2" stroke-width="0.7"/>
<line x1="137.40" y1="479.78" x2="137.40" y2="481.88" stroke="#577ca2" stroke-width="0.7"/>
<line x1="143.00" y1="479.78" x2="143.00" y2="481.88" stroke="#577ca2" stroke-width="0.7"/>
<line x1="42.70" y1="368.50" x2="50.40" y2="368.50" stroke="#577ca2" stroke-width="0.9"/>
<line x1="46.55" y1="367.00" x2="46.55" y2="368.50" stroke="#577ca2" stroke-width="0.7"/>
<text x="53.50" y="370.10" font-size="6.6">IPI = 0-2</text>
<line x1="42.70" y1="375.80" x2="50.40" y2="375.80" stroke="#d4587a" stroke-width="0.9"/>
<line x1="46.55" y1="374.30" x2="46.55" y2="375.80" stroke="#d4587a" stroke-width="0.7"/>
<text x="53.50" y="377.40" font-size="6.6">IPI = 3-5</text>
<text x="42.70" y="385.00" font-size="6.6">IPI = 0-2 versus IPI = 3-5</text>
<text x="42.70" y="392.00" font-size="6.6" textLength="104.50" lengthAdjust="spacingAndGlyphs">HR, 0.576 (95% CI, 0.183 to 1.812)</text>
<text x="42.70" y="399.00" font-size="6.6"><tspan font-style="italic">P</tspan> = .396</text>
<line x1="42.20" y1="518.80" x2="49.90" y2="518.80" stroke="#577ca2" stroke-width="0.9"/>
<line x1="46.05" y1="517.30" x2="46.05" y2="518.80" stroke="#577ca2" stroke-width="0.7"/>
<text x="53.00" y="520.40" font-size="6.6">IPI = 0 - 2</text>
<line x1="42.20" y1="526.10" x2="49.90" y2="526.10" stroke="#d4587a" stroke-width="0.9"/>
<line x1="46.05" y1="524.60" x2="46.05" y2="526.10" stroke="#d4587a" stroke-width="0.7"/>
<text x="53.00" y="527.70" font-size="6.6">IPI = 3-5</text>
<text x="42.20" y="535.30" font-size="6.6">IPI = 0-2 versus IPI = 3-5</text>
<text x="42.20" y="542.30" font-size="6.6" textLength="94.40" lengthAdjust="spacingAndGlyphs">HR, 0.311 (95% 0.066 to 1.468)</text>
<text x="42.20" y="549.30" font-size="6.6"><tspan font-style="italic">P</tspan> = .250</text>
<text x="183.00" y="311.40" font-size="12.6" textLength="8.50" lengthAdjust="spacingAndGlyphs" font-weight="bold" fill="#000" stroke="#000" stroke-width="0.35">D</text>
<line x1="218.80" y1="322.30" x2="218.80" y2="403.60" stroke="#231f20" stroke-width="1.3"/>
<line x1="218.20" y1="403.00" x2="337.95" y2="403.00" stroke="#231f20" stroke-width="1.3"/>
<line x1="215.90" y1="403.00" x2="218.80" y2="403.00" stroke="#231f20" stroke-width="1.1"/>
<text x="213.30" y="405.20" font-size="6.3" text-anchor="end">0</text>
<line x1="215.90" y1="387.56" x2="218.80" y2="387.56" stroke="#231f20" stroke-width="1.1"/>
<text x="213.30" y="389.76" font-size="6.3" text-anchor="end">20</text>
<line x1="215.90" y1="372.12" x2="218.80" y2="372.12" stroke="#231f20" stroke-width="1.1"/>
<text x="213.30" y="374.32" font-size="6.3" text-anchor="end">40</text>
<line x1="215.90" y1="356.68" x2="218.80" y2="356.68" stroke="#231f20" stroke-width="1.1"/>
<text x="213.30" y="358.88" font-size="6.3" text-anchor="end">60</text>
<line x1="215.90" y1="341.24" x2="218.80" y2="341.24" stroke="#231f20" stroke-width="1.1"/>
<text x="213.30" y="343.44" font-size="6.3" text-anchor="end">80</text>
<line x1="215.90" y1="325.80" x2="218.80" y2="325.80" stroke="#231f20" stroke-width="1.1"/>
<text x="213.30" y="328.00" font-size="6.3" text-anchor="end">100</text>
<line x1="218.80" y1="403.00" x2="218.80" y2="405.60" stroke="#231f20" stroke-width="1.1"/>
<text x="218.80" y="414.80" font-size="6.3" text-anchor="middle">0</text>
<line x1="233.10" y1="403.00" x2="233.10" y2="405.60" stroke="#231f20" stroke-width="1.1"/>
<text x="233.10" y="414.80" font-size="6.3" text-anchor="middle">6</text>
<line x1="247.40" y1="403.00" x2="247.40" y2="405.60" stroke="#231f20" stroke-width="1.1"/>
<text x="247.40" y="414.80" font-size="6.3" text-anchor="middle">12</text>
<line x1="261.69" y1="403.00" x2="261.69" y2="405.60" stroke="#231f20" stroke-width="1.1"/>
<text x="261.69" y="414.80" font-size="6.3" text-anchor="middle">18</text>
<line x1="275.99" y1="403.00" x2="275.99" y2="405.60" stroke="#231f20" stroke-width="1.1"/>
<text x="275.99" y="414.80" font-size="6.3" text-anchor="middle">24</text>
<line x1="290.29" y1="403.00" x2="290.29" y2="405.60" stroke="#231f20" stroke-width="1.1"/>
<text x="290.29" y="414.80" font-size="6.3" text-anchor="middle">30</text>
<line x1="304.59" y1="403.00" x2="304.59" y2="405.60" stroke="#231f20" stroke-width="1.1"/>
<text x="304.59" y="414.80" font-size="6.3" text-anchor="middle">36</text>
<line x1="318.89" y1="403.00" x2="318.89" y2="405.60" stroke="#231f20" stroke-width="1.1"/>
<text x="318.89" y="414.80" font-size="6.3" text-anchor="middle">42</text>
<line x1="333.18" y1="403.00" x2="333.18" y2="405.60" stroke="#231f20" stroke-width="1.1"/>
<text x="333.18" y="414.80" font-size="6.3" text-anchor="middle">48</text>
<text transform="translate(194.60 362.55) rotate(-90)" x="0" y="0" font-size="9.2" text-anchor="middle" textLength="89.50" lengthAdjust="spacingAndGlyphs">Progression-free survival (%)</text>
<text x="212.30" y="425.60" font-size="6.6" text-anchor="end" textLength="24.60" lengthAdjust="spacingAndGlyphs">Number</text>
<text x="212.30" y="433.50" font-size="6.6" text-anchor="end" textLength="17.50" lengthAdjust="spacingAndGlyphs">at risk</text>
<text x="230.60" y="427.80" font-size="9.0" textLength="96.00" lengthAdjust="spacingAndGlyphs">Time from diagnosis (months)</text>
<text x="212.30" y="444.10" font-size="6.75" text-anchor="end">GCB</text>
<text x="218.80" y="444.10" font-size="6.4" text-anchor="middle">17</text>
<text x="233.10" y="444.10" font-size="6.4" text-anchor="middle">16</text>
<text x="247.40" y="444.10" font-size="6.4" text-anchor="middle">14</text>
<text x="261.69" y="444.10" font-size="6.4" text-anchor="middle">13</text>
<text x="275.99" y="444.10" font-size="6.4" text-anchor="middle">12</text>
<text x="290.29" y="444.10" font-size="6.4" text-anchor="middle">11</text>
<text x="304.59" y="444.10" font-size="6.4" text-anchor="middle">6</text>
<text x="318.89" y="444.10" font-size="6.4" text-anchor="middle">3</text>
<text x="333.18" y="444.10" font-size="6.4" text-anchor="middle">0</text>
<text x="212.30" y="454.70" font-size="6.75" text-anchor="end">Non-GCB</text>
<text x="218.80" y="454.70" font-size="6.4" text-anchor="middle">23</text>
<text x="233.10" y="454.70" font-size="6.4" text-anchor="middle">21</text>
<text x="247.40" y="454.70" font-size="6.4" text-anchor="middle">16</text>
<text x="261.69" y="454.70" font-size="6.4" text-anchor="middle">13</text>
<text x="275.99" y="454.70" font-size="6.4" text-anchor="middle">13</text>
<text x="290.29" y="454.70" font-size="6.4" text-anchor="middle">13</text>
<text x="304.59" y="454.70" font-size="6.4" text-anchor="middle">6</text>
<text x="318.89" y="454.70" font-size="6.4" text-anchor="middle">1</text>
<text x="333.18" y="454.70" font-size="6.4" text-anchor="middle">0</text>
<line x1="218.00" y1="472.60" x2="218.00" y2="553.90" stroke="#231f20" stroke-width="1.3"/>
<line x1="217.40" y1="553.30" x2="337.15" y2="553.30" stroke="#231f20" stroke-width="1.3"/>
<line x1="215.10" y1="553.30" x2="218.00" y2="553.30" stroke="#231f20" stroke-width="1.1"/>
<text x="212.50" y="555.50" font-size="6.3" text-anchor="end">0</text>
<line x1="215.10" y1="537.86" x2="218.00" y2="537.86" stroke="#231f20" stroke-width="1.1"/>
<text x="212.50" y="540.06" font-size="6.3" text-anchor="end">20</text>
<line x1="215.10" y1="522.42" x2="218.00" y2="522.42" stroke="#231f20" stroke-width="1.1"/>
<text x="212.50" y="524.62" font-size="6.3" text-anchor="end">40</text>
<line x1="215.10" y1="506.98" x2="218.00" y2="506.98" stroke="#231f20" stroke-width="1.1"/>
<text x="212.50" y="509.18" font-size="6.3" text-anchor="end">60</text>
<line x1="215.10" y1="491.54" x2="218.00" y2="491.54" stroke="#231f20" stroke-width="1.1"/>
<text x="212.50" y="493.74" font-size="6.3" text-anchor="end">80</text>
<line x1="215.10" y1="476.10" x2="218.00" y2="476.10" stroke="#231f20" stroke-width="1.1"/>
<text x="212.50" y="478.30" font-size="6.3" text-anchor="end">100</text>
<line x1="218.00" y1="553.30" x2="218.00" y2="555.90" stroke="#231f20" stroke-width="1.1"/>
<text x="218.00" y="565.30" font-size="6.3" text-anchor="middle">0</text>
<line x1="232.30" y1="553.30" x2="232.30" y2="555.90" stroke="#231f20" stroke-width="1.1"/>
<text x="232.30" y="565.30" font-size="6.3" text-anchor="middle">6</text>
<line x1="246.60" y1="553.30" x2="246.60" y2="555.90" stroke="#231f20" stroke-width="1.1"/>
<text x="246.60" y="565.30" font-size="6.3" text-anchor="middle">12</text>
<line x1="260.89" y1="553.30" x2="260.89" y2="555.90" stroke="#231f20" stroke-width="1.1"/>
<text x="260.89" y="565.30" font-size="6.3" text-anchor="middle">18</text>
<line x1="275.19" y1="553.30" x2="275.19" y2="555.90" stroke="#231f20" stroke-width="1.1"/>
<text x="275.19" y="565.30" font-size="6.3" text-anchor="middle">24</text>
<line x1="289.49" y1="553.30" x2="289.49" y2="555.90" stroke="#231f20" stroke-width="1.1"/>
<text x="289.49" y="565.30" font-size="6.3" text-anchor="middle">30</text>
<line x1="303.79" y1="553.30" x2="303.79" y2="555.90" stroke="#231f20" stroke-width="1.1"/>
<text x="303.79" y="565.30" font-size="6.3" text-anchor="middle">36</text>
<line x1="318.09" y1="553.30" x2="318.09" y2="555.90" stroke="#231f20" stroke-width="1.1"/>
<text x="318.09" y="565.30" font-size="6.3" text-anchor="middle">42</text>
<line x1="332.38" y1="553.30" x2="332.38" y2="555.90" stroke="#231f20" stroke-width="1.1"/>
<text x="332.38" y="565.30" font-size="6.3" text-anchor="middle">48</text>
<text transform="translate(194.60 512.10) rotate(-90)" x="0" y="0" font-size="9.2" text-anchor="middle" textLength="60.80" lengthAdjust="spacingAndGlyphs">Overall survival (%)</text>
<text x="212.30" y="576.00" font-size="6.6" text-anchor="end" textLength="24.60" lengthAdjust="spacingAndGlyphs">Number</text>
<text x="212.30" y="584.00" font-size="6.6" text-anchor="end" textLength="17.50" lengthAdjust="spacingAndGlyphs">at risk</text>
<text x="230.60" y="577.90" font-size="9.0" textLength="96.00" lengthAdjust="spacingAndGlyphs">Time from diagnosis (months)</text>
<text x="212.30" y="594.10" font-size="6.75" text-anchor="end">GCB</text>
<text x="218.00" y="594.10" font-size="6.4" text-anchor="middle">17</text>
<text x="232.30" y="594.10" font-size="6.4" text-anchor="middle">17</text>
<text x="246.60" y="594.10" font-size="6.4" text-anchor="middle">14</text>
<text x="260.89" y="594.10" font-size="6.4" text-anchor="middle">13</text>
<text x="275.19" y="594.10" font-size="6.4" text-anchor="middle">13</text>
<text x="289.49" y="594.10" font-size="6.4" text-anchor="middle">12</text>
<text x="303.79" y="594.10" font-size="6.4" text-anchor="middle">7</text>
<text x="318.09" y="594.10" font-size="6.4" text-anchor="middle">3</text>
<text x="332.38" y="594.10" font-size="6.4" text-anchor="middle">0</text>
<text x="212.30" y="604.90" font-size="6.75" text-anchor="end">Non-GCB</text>
<text x="218.00" y="604.90" font-size="6.4" text-anchor="middle">23</text>
<text x="232.30" y="604.90" font-size="6.4" text-anchor="middle">23</text>
<text x="246.60" y="604.90" font-size="6.4" text-anchor="middle">21</text>
<text x="260.89" y="604.90" font-size="6.4" text-anchor="middle">18</text>
<text x="275.19" y="604.90" font-size="6.4" text-anchor="middle">18</text>
<text x="289.49" y="604.90" font-size="6.4" text-anchor="middle">17</text>
<text x="303.79" y="604.90" font-size="6.4" text-anchor="middle">8</text>
<text x="318.09" y="604.90" font-size="6.4" text-anchor="middle">2</text>
<text x="332.38" y="604.90" font-size="6.4" text-anchor="middle">0</text>
<path d="M218.80 325.50H226.50V329.50H227.50V332.50H233.50V335.50H234.50V339.50H235.50V342.50H238.50V345.50H243.50V349.50H253.50V352.50H260.50V355.50H322.70" fill="none" stroke="#d4587a" stroke-width="1.0"/>
<line x1="292.00" y1="354.19" x2="292.00" y2="356.29" stroke="#d4587a" stroke-width="0.7"/>
<line x1="295.00" y1="354.19" x2="295.00" y2="356.29" stroke="#d4587a" stroke-width="0.7"/>
<line x1="298.00" y1="354.19" x2="298.00" y2="356.29" stroke="#d4587a" stroke-width="0.7"/>
<line x1="301.00" y1="354.19" x2="301.00" y2="356.29" stroke="#d4587a" stroke-width="0.7"/>
<line x1="304.00" y1="354.19" x2="304.00" y2="356.29" stroke="#d4587a" stroke-width="0.7"/>
<line x1="307.00" y1="354.19" x2="307.00" y2="356.29" stroke="#d4587a" stroke-width="0.7"/>
<line x1="310.00" y1="354.19" x2="310.00" y2="356.29" stroke="#d4587a" stroke-width="0.7"/>
<line x1="313.00" y1="354.19" x2="313.00" y2="356.29" stroke="#d4587a" stroke-width="0.7"/>
<line x1="317.00" y1="354.19" x2="317.00" y2="356.29" stroke="#d4587a" stroke-width="0.7"/>
<line x1="322.00" y1="354.19" x2="322.00" y2="356.29" stroke="#d4587a" stroke-width="0.7"/>
<path d="M218.80 325.50H223.50V330.50H232.50V334.50H237.50V339.50H262.50V343.50H326.50" fill="none" stroke="#577ca2" stroke-width="1.0"/>
<line x1="248.30" y1="337.59" x2="248.30" y2="339.69" stroke="#577ca2" stroke-width="0.7"/>
<line x1="284.20" y1="342.14" x2="284.20" y2="344.24" stroke="#577ca2" stroke-width="0.7"/>
<line x1="293.50" y1="342.14" x2="293.50" y2="344.24" stroke="#577ca2" stroke-width="0.7"/>
<line x1="300.00" y1="342.14" x2="300.00" y2="344.24" stroke="#577ca2" stroke-width="0.7"/>
<line x1="302.00" y1="342.14" x2="302.00" y2="344.24" stroke="#577ca2" stroke-width="0.7"/>
<line x1="306.50" y1="342.14" x2="306.50" y2="344.24" stroke="#577ca2" stroke-width="0.7"/>
<line x1="315.00" y1="342.14" x2="315.00" y2="344.24" stroke="#577ca2" stroke-width="0.7"/>
<line x1="318.00" y1="342.14" x2="318.00" y2="344.24" stroke="#577ca2" stroke-width="0.7"/>
<line x1="321.00" y1="342.14" x2="321.00" y2="344.24" stroke="#577ca2" stroke-width="0.7"/>
<line x1="326.00" y1="342.14" x2="326.00" y2="344.24" stroke="#577ca2" stroke-width="0.7"/>
<path d="M218.00 476.50H233.50V479.50H236.50V482.50H249.50V486.50H257.50V489.50H326.00" fill="none" stroke="#d4587a" stroke-width="1.0"/>
<line x1="259.00" y1="487.73" x2="259.00" y2="489.83" stroke="#d4587a" stroke-width="0.7"/>
<line x1="275.00" y1="487.73" x2="275.00" y2="489.83" stroke="#d4587a" stroke-width="0.7"/>
<line x1="285.00" y1="487.73" x2="285.00" y2="489.83" stroke="#d4587a" stroke-width="0.7"/>
<line x1="300.00" y1="487.73" x2="300.00" y2="489.83" stroke="#d4587a" stroke-width="0.7"/>
<line x1="312.00" y1="487.73" x2="312.00" y2="489.83" stroke="#d4587a" stroke-width="0.7"/>
<line x1="320.00" y1="487.73" x2="320.00" y2="489.83" stroke="#d4587a" stroke-width="0.7"/>
<path d="M218.00 476.50H233.50V480.50H235.50V485.50H237.50V489.50H327.00" fill="none" stroke="#577ca2" stroke-width="1.0"/>
<line x1="250.00" y1="487.89" x2="250.00" y2="489.99" stroke="#577ca2" stroke-width="0.7"/>
<line x1="280.00" y1="487.89" x2="280.00" y2="489.99" stroke="#577ca2" stroke-width="0.7"/>
<line x1="292.00" y1="487.89" x2="292.00" y2="489.99" stroke="#577ca2" stroke-width="0.7"/>
<line x1="296.00" y1="487.89" x2="296.00" y2="489.99" stroke="#577ca2" stroke-width="0.7"/>
<line x1="300.00" y1="487.89" x2="300.00" y2="489.99" stroke="#577ca2" stroke-width="0.7"/>
<line x1="303.00" y1="487.89" x2="303.00" y2="489.99" stroke="#577ca2" stroke-width="0.7"/>
<line x1="306.00" y1="487.89" x2="306.00" y2="489.99" stroke="#577ca2" stroke-width="0.7"/>
<line x1="310.00" y1="487.89" x2="310.00" y2="489.99" stroke="#577ca2" stroke-width="0.7"/>
<line x1="314.00" y1="487.89" x2="314.00" y2="489.99" stroke="#577ca2" stroke-width="0.7"/>
<line x1="318.00" y1="487.89" x2="318.00" y2="489.99" stroke="#577ca2" stroke-width="0.7"/>
<line x1="322.00" y1="487.89" x2="322.00" y2="489.99" stroke="#577ca2" stroke-width="0.7"/>
<line x1="326.00" y1="487.89" x2="326.00" y2="489.99" stroke="#577ca2" stroke-width="0.7"/>
<line x1="221.80" y1="368.50" x2="229.50" y2="368.50" stroke="#577ca2" stroke-width="0.9"/>
<line x1="225.65" y1="367.00" x2="225.65" y2="368.50" stroke="#577ca2" stroke-width="0.7"/>
<text x="232.60" y="370.10" font-size="6.6">GCB</text>
<line x1="221.80" y1="375.80" x2="229.50" y2="375.80" stroke="#d4587a" stroke-width="0.9"/>
<line x1="225.65" y1="374.30" x2="225.65" y2="375.80" stroke="#d4587a" stroke-width="0.7"/>
<text x="232.60" y="377.40" font-size="6.6">Non-GCB</text>
<text x="221.80" y="385.00" font-size="6.6">GCB versus Non-GCB</text>
<text x="221.80" y="392.00" font-size="6.6" textLength="105.80" lengthAdjust="spacingAndGlyphs">HR, 0.556 (95% CI, 0.186 to 1.660)</text>
<text x="221.80" y="399.00" font-size="6.6"><tspan font-style="italic">P</tspan> = .321</text>
<line x1="221.00" y1="518.80" x2="228.70" y2="518.80" stroke="#577ca2" stroke-width="0.9"/>
<line x1="224.85" y1="517.30" x2="224.85" y2="518.80" stroke="#577ca2" stroke-width="0.7"/>
<text x="231.80" y="520.40" font-size="6.6">GCB</text>
<line x1="221.00" y1="526.10" x2="228.70" y2="526.10" stroke="#d4587a" stroke-width="0.9"/>
<line x1="224.85" y1="524.60" x2="224.85" y2="526.10" stroke="#d4587a" stroke-width="0.7"/>
<text x="231.80" y="527.70" font-size="6.6">Non-GCB</text>
<text x="221.00" y="535.30" font-size="6.6">GCB versus Non-GCB</text>
<text x="221.00" y="542.30" font-size="6.6" textLength="106.60" lengthAdjust="spacingAndGlyphs">HR, 1.063 (95% CI, 0.236 to 4.784)</text>
<text x="221.00" y="549.30" font-size="6.6"><tspan font-style="italic">P</tspan> = .936</text>
<text x="362.00" y="311.40" font-size="12.6" textLength="6.80" lengthAdjust="spacingAndGlyphs" font-weight="bold" fill="#000" stroke="#000" stroke-width="0.35">E</text>
<line x1="392.70" y1="322.30" x2="392.70" y2="403.60" stroke="#231f20" stroke-width="1.3"/>
<line x1="392.10" y1="403.00" x2="512.70" y2="403.00" stroke="#231f20" stroke-width="1.3"/>
<line x1="389.80" y1="403.00" x2="392.70" y2="403.00" stroke="#231f20" stroke-width="1.1"/>
<text x="387.20" y="405.20" font-size="6.3" text-anchor="end">0</text>
<line x1="389.80" y1="387.56" x2="392.70" y2="387.56" stroke="#231f20" stroke-width="1.1"/>
<text x="387.20" y="389.76" font-size="6.3" text-anchor="end">20</text>
<line x1="389.80" y1="372.12" x2="392.70" y2="372.12" stroke="#231f20" stroke-width="1.1"/>
<text x="387.20" y="374.32" font-size="6.3" text-anchor="end">40</text>
<line x1="389.80" y1="356.68" x2="392.70" y2="356.68" stroke="#231f20" stroke-width="1.1"/>
<text x="387.20" y="358.88" font-size="6.3" text-anchor="end">60</text>
<line x1="389.80" y1="341.24" x2="392.70" y2="341.24" stroke="#231f20" stroke-width="1.1"/>
<text x="387.20" y="343.44" font-size="6.3" text-anchor="end">80</text>
<line x1="389.80" y1="325.80" x2="392.70" y2="325.80" stroke="#231f20" stroke-width="1.1"/>
<text x="387.20" y="328.00" font-size="6.3" text-anchor="end">100</text>
<line x1="392.70" y1="403.00" x2="392.70" y2="405.60" stroke="#231f20" stroke-width="1.1"/>
<text x="392.70" y="414.80" font-size="6.3" text-anchor="middle">0</text>
<line x1="407.10" y1="403.00" x2="407.10" y2="405.60" stroke="#231f20" stroke-width="1.1"/>
<text x="407.10" y="414.80" font-size="6.3" text-anchor="middle">6</text>
<line x1="421.50" y1="403.00" x2="421.50" y2="405.60" stroke="#231f20" stroke-width="1.1"/>
<text x="421.50" y="414.80" font-size="6.3" text-anchor="middle">12</text>
<line x1="435.90" y1="403.00" x2="435.90" y2="405.60" stroke="#231f20" stroke-width="1.1"/>
<text x="435.90" y="414.80" font-size="6.3" text-anchor="middle">18</text>
<line x1="450.30" y1="403.00" x2="450.30" y2="405.60" stroke="#231f20" stroke-width="1.1"/>
<text x="450.30" y="414.80" font-size="6.3" text-anchor="middle">24</text>
<line x1="464.70" y1="403.00" x2="464.70" y2="405.60" stroke="#231f20" stroke-width="1.1"/>
<text x="464.70" y="414.80" font-size="6.3" text-anchor="middle">30</text>
<line x1="479.10" y1="403.00" x2="479.10" y2="405.60" stroke="#231f20" stroke-width="1.1"/>
<text x="479.10" y="414.80" font-size="6.3" text-anchor="middle">36</text>
<line x1="493.50" y1="403.00" x2="493.50" y2="405.60" stroke="#231f20" stroke-width="1.1"/>
<text x="493.50" y="414.80" font-size="6.3" text-anchor="middle">42</text>
<line x1="507.90" y1="403.00" x2="507.90" y2="405.60" stroke="#231f20" stroke-width="1.1"/>
<text x="507.90" y="414.80" font-size="6.3" text-anchor="middle">48</text>
<text transform="translate(368.60 362.55) rotate(-90)" x="0" y="0" font-size="9.2" text-anchor="middle" textLength="89.50" lengthAdjust="spacingAndGlyphs">Progression-free survival (%)</text>
<text x="386.70" y="425.60" font-size="6.6" text-anchor="end" textLength="24.60" lengthAdjust="spacingAndGlyphs">Number</text>
<text x="386.70" y="433.50" font-size="6.6" text-anchor="end" textLength="17.50" lengthAdjust="spacingAndGlyphs">at risk</text>
<text x="405.50" y="427.80" font-size="9.0" textLength="95.10" lengthAdjust="spacingAndGlyphs">Time from diagnosis (months)</text>
<text x="386.50" y="444.10" font-size="6.75" text-anchor="end">Non-DE</text>
<text x="392.70" y="444.10" font-size="6.4" text-anchor="middle">27</text>
<text x="407.10" y="444.10" font-size="6.4" text-anchor="middle">26</text>
<text x="421.50" y="444.10" font-size="6.4" text-anchor="middle">21</text>
<text x="435.90" y="444.10" font-size="6.4" text-anchor="middle">18</text>
<text x="450.30" y="444.10" font-size="6.4" text-anchor="middle">18</text>
<text x="464.70" y="444.10" font-size="6.4" text-anchor="middle">18</text>
<text x="479.10" y="444.10" font-size="6.4" text-anchor="middle">11</text>
<text x="493.50" y="444.10" font-size="6.4" text-anchor="middle">4</text>
<text x="507.90" y="444.10" font-size="6.4" text-anchor="middle">0</text>
<text x="386.50" y="454.70" font-size="6.75" text-anchor="end">DE</text>
<text x="392.70" y="454.70" font-size="6.4" text-anchor="middle">13</text>
<text x="407.10" y="454.70" font-size="6.4" text-anchor="middle">11</text>
<text x="421.50" y="454.70" font-size="6.4" text-anchor="middle">9</text>
<text x="435.90" y="454.70" font-size="6.4" text-anchor="middle">8</text>
<text x="450.30" y="454.70" font-size="6.4" text-anchor="middle">7</text>
<text x="464.70" y="454.70" font-size="6.4" text-anchor="middle">6</text>
<text x="479.10" y="454.70" font-size="6.4" text-anchor="middle">1</text>
<text x="493.50" y="454.70" font-size="6.4" text-anchor="middle">0</text>
<text x="507.90" y="454.70" font-size="6.4" text-anchor="middle">0</text>
<line x1="392.80" y1="472.60" x2="392.80" y2="553.90" stroke="#231f20" stroke-width="1.3"/>
<line x1="392.20" y1="553.30" x2="512.80" y2="553.30" stroke="#231f20" stroke-width="1.3"/>
<line x1="389.90" y1="553.30" x2="392.80" y2="553.30" stroke="#231f20" stroke-width="1.1"/>
<text x="387.30" y="555.50" font-size="6.3" text-anchor="end">0</text>
<line x1="389.90" y1="537.86" x2="392.80" y2="537.86" stroke="#231f20" stroke-width="1.1"/>
<text x="387.30" y="540.06" font-size="6.3" text-anchor="end">20</text>
<line x1="389.90" y1="522.42" x2="392.80" y2="522.42" stroke="#231f20" stroke-width="1.1"/>
<text x="387.30" y="524.62" font-size="6.3" text-anchor="end">40</text>
<line x1="389.90" y1="506.98" x2="392.80" y2="506.98" stroke="#231f20" stroke-width="1.1"/>
<text x="387.30" y="509.18" font-size="6.3" text-anchor="end">60</text>
<line x1="389.90" y1="491.54" x2="392.80" y2="491.54" stroke="#231f20" stroke-width="1.1"/>
<text x="387.30" y="493.74" font-size="6.3" text-anchor="end">80</text>
<line x1="389.90" y1="476.10" x2="392.80" y2="476.10" stroke="#231f20" stroke-width="1.1"/>
<text x="387.30" y="478.30" font-size="6.3" text-anchor="end">100</text>
<line x1="392.80" y1="553.30" x2="392.80" y2="555.90" stroke="#231f20" stroke-width="1.1"/>
<text x="392.80" y="565.30" font-size="6.3" text-anchor="middle">0</text>
<line x1="407.20" y1="553.30" x2="407.20" y2="555.90" stroke="#231f20" stroke-width="1.1"/>
<text x="407.20" y="565.30" font-size="6.3" text-anchor="middle">6</text>
<line x1="421.60" y1="553.30" x2="421.60" y2="555.90" stroke="#231f20" stroke-width="1.1"/>
<text x="421.60" y="565.30" font-size="6.3" text-anchor="middle">12</text>
<line x1="436.00" y1="553.30" x2="436.00" y2="555.90" stroke="#231f20" stroke-width="1.1"/>
<text x="436.00" y="565.30" font-size="6.3" text-anchor="middle">18</text>
<line x1="450.40" y1="553.30" x2="450.40" y2="555.90" stroke="#231f20" stroke-width="1.1"/>
<text x="450.40" y="565.30" font-size="6.3" text-anchor="middle">24</text>
<line x1="464.80" y1="553.30" x2="464.80" y2="555.90" stroke="#231f20" stroke-width="1.1"/>
<text x="464.80" y="565.30" font-size="6.3" text-anchor="middle">30</text>
<line x1="479.20" y1="553.30" x2="479.20" y2="555.90" stroke="#231f20" stroke-width="1.1"/>
<text x="479.20" y="565.30" font-size="6.3" text-anchor="middle">36</text>
<line x1="493.60" y1="553.30" x2="493.60" y2="555.90" stroke="#231f20" stroke-width="1.1"/>
<text x="493.60" y="565.30" font-size="6.3" text-anchor="middle">42</text>
<line x1="508.00" y1="553.30" x2="508.00" y2="555.90" stroke="#231f20" stroke-width="1.1"/>
<text x="508.00" y="565.30" font-size="6.3" text-anchor="middle">48</text>
<text transform="translate(368.60 512.10) rotate(-90)" x="0" y="0" font-size="9.2" text-anchor="middle" textLength="60.80" lengthAdjust="spacingAndGlyphs">Overall survival (%)</text>
<text x="386.70" y="576.00" font-size="6.6" text-anchor="end" textLength="24.60" lengthAdjust="spacingAndGlyphs">Number</text>
<text x="386.70" y="584.00" font-size="6.6" text-anchor="end" textLength="17.50" lengthAdjust="spacingAndGlyphs">at risk</text>
<text x="405.50" y="577.90" font-size="9.0" textLength="95.10" lengthAdjust="spacingAndGlyphs">Time from diagnosis (months)</text>
<text x="386.50" y="594.10" font-size="6.75" text-anchor="end">Non-DE</text>
<text x="392.80" y="594.10" font-size="6.4" text-anchor="middle">27</text>
<text x="407.20" y="594.10" font-size="6.4" text-anchor="middle">27</text>
<text x="421.60" y="594.10" font-size="6.4" text-anchor="middle">24</text>
<text x="436.00" y="594.10" font-size="6.4" text-anchor="middle">22</text>
<text x="450.40" y="594.10" font-size="6.4" text-anchor="middle">22</text>
<text x="464.80" y="594.10" font-size="6.4" text-anchor="middle">21</text>
<text x="479.20" y="594.10" font-size="6.4" text-anchor="middle">13</text>
<text x="493.60" y="594.10" font-size="6.4" text-anchor="middle">5</text>
<text x="508.00" y="594.10" font-size="6.4" text-anchor="middle">0</text>
<text x="386.50" y="604.90" font-size="6.75" text-anchor="end">DE</text>
<text x="392.80" y="604.90" font-size="6.4" text-anchor="middle">13</text>
<text x="407.20" y="604.90" font-size="6.4" text-anchor="middle">13</text>
<text x="421.60" y="604.90" font-size="6.4" text-anchor="middle">11</text>
<text x="436.00" y="604.90" font-size="6.4" text-anchor="middle">9</text>
<text x="450.40" y="604.90" font-size="6.4" text-anchor="middle">9</text>
<text x="464.80" y="604.90" font-size="6.4" text-anchor="middle">8</text>
<text x="479.20" y="604.90" font-size="6.4" text-anchor="middle">2</text>
<text x="493.60" y="604.90" font-size="6.4" text-anchor="middle">0</text>
<text x="508.00" y="604.90" font-size="6.4" text-anchor="middle">0</text>
<path d="M392.70 325.50H398.50V331.50H402.50V337.50H409.50V343.50H418.50V349.50H436.50V355.50H482.30" fill="none" stroke="#d4587a" stroke-width="1.0"/>
<line x1="458.00" y1="353.72" x2="458.00" y2="355.82" stroke="#d4587a" stroke-width="0.7"/>
<line x1="470.00" y1="353.72" x2="470.00" y2="355.82" stroke="#d4587a" stroke-width="0.7"/>
<line x1="474.00" y1="353.72" x2="474.00" y2="355.82" stroke="#d4587a" stroke-width="0.7"/>
<line x1="477.00" y1="353.72" x2="477.00" y2="355.82" stroke="#d4587a" stroke-width="0.7"/>
<line x1="480.00" y1="353.72" x2="480.00" y2="355.82" stroke="#d4587a" stroke-width="0.7"/>
<path d="M392.70 325.50H401.50V328.50H407.50V331.50H408.50V334.50H409.50V337.50H411.50V340.50H412.50V342.50H428.50V345.50H435.50V348.50H501.00" fill="none" stroke="#577ca2" stroke-width="1.0"/>
<line x1="423.60" y1="341.14" x2="423.60" y2="343.24" stroke="#577ca2" stroke-width="0.7"/>
<line x1="467.00" y1="346.85" x2="467.00" y2="348.95" stroke="#577ca2" stroke-width="0.7"/>
<line x1="474.00" y1="346.85" x2="474.00" y2="348.95" stroke="#577ca2" stroke-width="0.7"/>
<line x1="478.00" y1="346.85" x2="478.00" y2="348.95" stroke="#577ca2" stroke-width="0.7"/>
<line x1="481.00" y1="346.85" x2="481.00" y2="348.95" stroke="#577ca2" stroke-width="0.7"/>
<line x1="483.00" y1="346.85" x2="483.00" y2="348.95" stroke="#577ca2" stroke-width="0.7"/>
<line x1="490.00" y1="346.85" x2="490.00" y2="348.95" stroke="#577ca2" stroke-width="0.7"/>
<line x1="493.00" y1="346.85" x2="493.00" y2="348.95" stroke="#577ca2" stroke-width="0.7"/>
<line x1="496.00" y1="346.85" x2="496.00" y2="348.95" stroke="#577ca2" stroke-width="0.7"/>
<line x1="500.00" y1="346.85" x2="500.00" y2="348.95" stroke="#577ca2" stroke-width="0.7"/>
<path d="M392.80 476.50H406.50V482.50H409.50V487.50H431.50V493.50H481.40" fill="none" stroke="#d4587a" stroke-width="1.0"/>
<line x1="455.00" y1="492.13" x2="455.00" y2="494.23" stroke="#d4587a" stroke-width="0.7"/>
<line x1="468.00" y1="492.13" x2="468.00" y2="494.23" stroke="#d4587a" stroke-width="0.7"/>
<line x1="473.00" y1="492.13" x2="473.00" y2="494.23" stroke="#d4587a" stroke-width="0.7"/>
<line x1="477.00" y1="492.13" x2="477.00" y2="494.23" stroke="#d4587a" stroke-width="0.7"/>
<line x1="481.00" y1="492.13" x2="481.00" y2="494.23" stroke="#d4587a" stroke-width="0.7"/>
<path d="M392.80 476.50H409.50V481.50H411.50V484.50H423.50V487.50H501.60" fill="none" stroke="#577ca2" stroke-width="1.0"/>
<line x1="432.00" y1="485.73" x2="432.00" y2="487.83" stroke="#577ca2" stroke-width="0.7"/>
<line x1="450.00" y1="485.73" x2="450.00" y2="487.83" stroke="#577ca2" stroke-width="0.7"/>
<line x1="467.00" y1="485.73" x2="467.00" y2="487.83" stroke="#577ca2" stroke-width="0.7"/>
<line x1="472.00" y1="485.73" x2="472.00" y2="487.83" stroke="#577ca2" stroke-width="0.7"/>
<line x1="476.00" y1="485.73" x2="476.00" y2="487.83" stroke="#577ca2" stroke-width="0.7"/>
<line x1="480.00" y1="485.73" x2="480.00" y2="487.83" stroke="#577ca2" stroke-width="0.7"/>
<line x1="488.00" y1="485.73" x2="488.00" y2="487.83" stroke="#577ca2" stroke-width="0.7"/>
<line x1="492.00" y1="485.73" x2="492.00" y2="487.83" stroke="#577ca2" stroke-width="0.7"/>
<line x1="496.00" y1="485.73" x2="496.00" y2="487.83" stroke="#577ca2" stroke-width="0.7"/>
<line x1="500.00" y1="485.73" x2="500.00" y2="487.83" stroke="#577ca2" stroke-width="0.7"/>
<line x1="395.70" y1="368.50" x2="403.40" y2="368.50" stroke="#577ca2" stroke-width="0.9"/>
<line x1="399.55" y1="367.00" x2="399.55" y2="368.50" stroke="#577ca2" stroke-width="0.7"/>
<text x="406.50" y="370.10" font-size="6.6">Non-DE</text>
<line x1="395.70" y1="375.80" x2="403.40" y2="375.80" stroke="#d4587a" stroke-width="0.9"/>
<line x1="399.55" y1="374.30" x2="399.55" y2="375.80" stroke="#d4587a" stroke-width="0.7"/>
<text x="406.50" y="377.40" font-size="6.6">DE</text>
<text x="395.70" y="385.00" font-size="6.6">Non-DE versus DE</text>
<text x="395.70" y="392.00" font-size="6.6" textLength="105.80" lengthAdjust="spacingAndGlyphs">HR, 0.722 (95% CI, 0.223 to 2.336)</text>
<text x="395.70" y="399.00" font-size="6.6"><tspan font-style="italic">P</tspan> = .565</text>
<line x1="395.80" y1="518.80" x2="403.50" y2="518.80" stroke="#577ca2" stroke-width="0.9"/>
<line x1="399.65" y1="517.30" x2="399.65" y2="518.80" stroke="#577ca2" stroke-width="0.7"/>
<text x="406.60" y="520.40" font-size="6.6">Non-DE</text>
<line x1="395.80" y1="526.10" x2="403.50" y2="526.10" stroke="#d4587a" stroke-width="0.9"/>
<line x1="399.65" y1="524.60" x2="399.65" y2="526.10" stroke="#d4587a" stroke-width="0.7"/>
<text x="406.60" y="527.70" font-size="6.6">DE</text>
<text x="395.80" y="535.30" font-size="6.6">Non-DE versus DE</text>
<text x="395.80" y="542.30" font-size="6.6" textLength="105.80" lengthAdjust="spacingAndGlyphs">HR, 0.655 (95% CI, 0.135 to 3.166)</text>
<text x="395.80" y="549.30" font-size="6.6"><tspan font-style="italic">P</tspan> = .575</text>
<rect x="0.5" y="0.5" width="519" height="613" fill="none" stroke="#454545" stroke-width="1"/>
</svg>
</body></html>
